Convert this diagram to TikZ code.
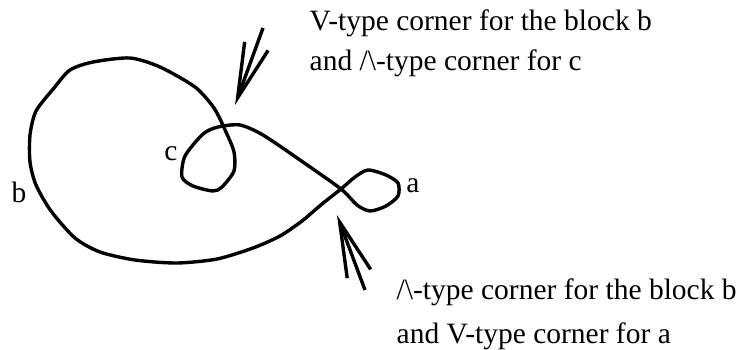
\documentclass[tikz,border=0pt]{standalone}
\usepackage{fontspec}
\setmainfont{Liberation Serif}
\usetikzlibrary{arrows.meta}
\begin{document}
\begin{tikzpicture}[x=1pt, y=-1pt, line width=3.4pt,
  >={Straight Barb[length=55pt, width=25pt]},
  lbl/.style={font=\fontsize{29.5}{40}\selectfont, inner sep=0pt},
  note/.style={lbl, anchor=base west}]
 \useasboundingbox (0,0) rectangle (746,349);
 % Kurve mit den drei Blöcken a, b, c
 \draw[smooth cycle, tension=0.45] plot coordinates {
  (341,189) (300,160) (263,135) (240,125) (218,127) (203,134) (185,156)
  (182,177) (193,186) (213,191) (222,187) (234,171) (234,152) (226,132)
  (214,108) (195,87) (160,67) (130,58) (93,62) (70,70) (54,88) (36,111)
  (30,135) (30,162) (36,185) (51,211) (75,238) (100,252) (135,260)
  (177,263) (217,259) (253,248) (280,236) (302,221) (322,204) (341,189)
  (355,177) (368,170) (386,175) (398,183) (398,196) (386,206) (370,211)
  (357,205)};
 % Beschriftungen
 \node[lbl, anchor=base] (c) at (171,160) {c};
 \node[lbl, anchor=base] (b) at (19,202) {b};
 \node[lbl, anchor=base] (a) at (413,192) {a};
 % Pfeile auf die Ecken
 \coordinate (vtail) at (263,28);
 \coordinate (vtip) at (235,105);
 \coordinate (ltail) at (365,290);
 \coordinate (ltip) at (337,215);
 \draw[->] (vtail) -- (vtip);
 \draw[->] (ltail) -- (ltip);
 \node[note] (vtexta) at (308,30) {V-type corner for the block b};
 \node[note] (vtextb) at (308,70) {and /\textbackslash-type corner for c};
 \node[note] (ltexta) at (395,299) {/\textbackslash-type corner for the block b};
 \node[note] (ltextb) at (395,343) {and V-type corner for a};
\end{tikzpicture}
\end{document}
